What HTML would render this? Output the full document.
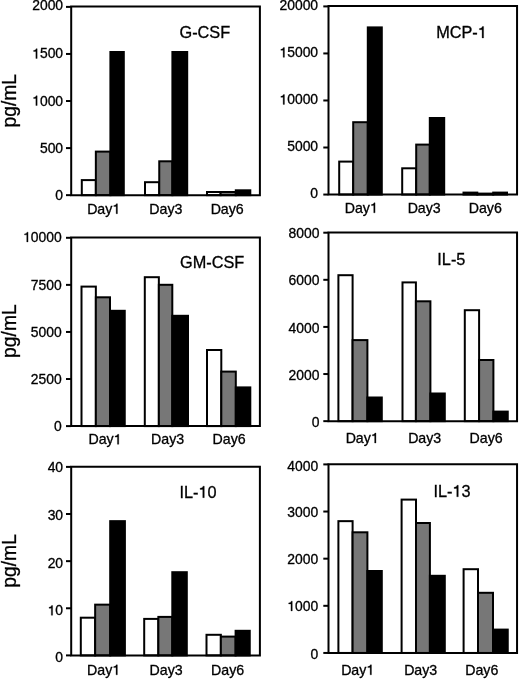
<!DOCTYPE html>
<html><head><meta charset="utf-8"><style>
html,body{margin:0;padding:0;background:#fff;width:520px;height:680px;overflow:hidden}
svg{display:block;will-change:transform;font-family:"Liberation Sans", sans-serif;fill:#000}
text{font-family:"Liberation Sans", sans-serif;stroke:#000;stroke-width:0.3px}
tspan.h{fill:none;stroke:none}
</style></head><body>
<svg width="520" height="680" viewBox="0 0 520 680">
<g>
<rect x="0" y="0" width="520" height="680" fill="#fff"/>
<g><rect x="81.8" y="180.1" width="14.05" height="15.05" fill="#fff" stroke="#000" stroke-width="2.0"/><rect x="95.85" y="151.6" width="14.55" height="43.55" fill="#777777" stroke="#000" stroke-width="2.0"/><rect x="110.4" y="52" width="13.4" height="143.15" fill="#000" stroke="#000" stroke-width="2.0"/><rect x="145" y="182.2" width="14.25" height="12.95" fill="#fff" stroke="#000" stroke-width="2.0"/><rect x="159.25" y="161.3" width="13.15" height="33.85" fill="#777777" stroke="#000" stroke-width="2.0"/><rect x="172.4" y="52" width="14.8" height="143.15" fill="#000" stroke="#000" stroke-width="2.0"/><rect x="207" y="192" width="13.6" height="3.15" fill="#fff" stroke="#000" stroke-width="2.0"/><rect x="220.6" y="192" width="15.2" height="3.15" fill="#777777" stroke="#000" stroke-width="2.0"/><rect x="235.8" y="190.3" width="14.5" height="4.85" fill="#000" stroke="#000" stroke-width="2.0"/><path d="M71.2 6.45 H259.9 V195.15 H71.2 Z" fill="none" stroke="#000" stroke-width="2.0" stroke-linecap="square"/><line x1="66" y1="195.15" x2="71.2" y2="195.15" stroke="#000" stroke-width="2.0"/><text x="63.1" y="200.15" text-anchor="end" font-size="13.9">0</text><line x1="66" y1="148.09" x2="71.2" y2="148.09" stroke="#000" stroke-width="2.0"/><text x="63.1" y="153.09" text-anchor="end" font-size="13.9">500</text><line x1="66" y1="101.03" x2="71.2" y2="101.03" stroke="#000" stroke-width="2.0"/><text x="63.1" y="105.53" text-anchor="end" font-size="13.9"><tspan class="h">1</tspan>000</text><line x1="66" y1="53.96" x2="71.2" y2="53.96" stroke="#000" stroke-width="2.0"/><text x="63.1" y="58.46" text-anchor="end" font-size="13.9"><tspan class="h">1</tspan>500</text><line x1="66" y1="6.9" x2="71.2" y2="6.9" stroke="#000" stroke-width="2.0"/><text x="63.1" y="9.9" text-anchor="end" font-size="13.9">2000</text><text x="87.13" y="213.7" font-size="14.2">Day<tspan class="h">1</tspan></text><text x="149.33" y="213.7" font-size="14.2">Day3</text><text x="210.63" y="213.7" font-size="14.2">Day6</text><text x="179.49" y="38.25" font-size="16.3">G-CSF</text><text transform="translate(16.0 100.7) rotate(-90)" text-anchor="middle" font-size="19.3">pg/mL</text></g>
<g><rect x="339.2" y="161.6" width="14" height="32.95" fill="#fff" stroke="#000" stroke-width="2.0"/><rect x="353.2" y="122.2" width="14.6" height="72.35" fill="#777777" stroke="#000" stroke-width="2.0"/><rect x="367.8" y="27.4" width="14" height="167.15" fill="#000" stroke="#000" stroke-width="2.0"/><rect x="402.2" y="168.3" width="14" height="26.25" fill="#fff" stroke="#000" stroke-width="2.0"/><rect x="416.2" y="144.6" width="13.6" height="49.95" fill="#777777" stroke="#000" stroke-width="2.0"/><rect x="429.8" y="118" width="14.4" height="76.55" fill="#000" stroke="#000" stroke-width="2.0"/><rect x="463.5" y="192.6" width="13.8" height="1.95" fill="#fff" stroke="#000" stroke-width="2.0"/><rect x="477.3" y="193.6" width="15.9" height="0.95" fill="#777777" stroke="#000" stroke-width="2.0"/><rect x="493.2" y="192.6" width="13.8" height="1.95" fill="#000" stroke="#000" stroke-width="2.0"/><path d="M328.5 6.05 H517.05 V194.55 H328.5 Z" fill="none" stroke="#000" stroke-width="2.0" stroke-linecap="square"/><line x1="323.3" y1="194.55" x2="328.5" y2="194.55" stroke="#000" stroke-width="2.0"/><text x="318.1" y="198.45" text-anchor="end" font-size="13.9">0</text><line x1="323.3" y1="147.51" x2="328.5" y2="147.51" stroke="#000" stroke-width="2.0"/><text x="318.1" y="150.51" text-anchor="end" font-size="13.9">5000</text><line x1="323.3" y1="100.48" x2="328.5" y2="100.48" stroke="#000" stroke-width="2.0"/><text x="318.1" y="104.38" text-anchor="end" font-size="13.9"><tspan class="h">1</tspan>0000</text><line x1="323.3" y1="53.44" x2="328.5" y2="53.44" stroke="#000" stroke-width="2.0"/><text x="318.1" y="57.34" text-anchor="end" font-size="13.9"><tspan class="h">1</tspan>5000</text><line x1="323.3" y1="6.4" x2="328.5" y2="6.4" stroke="#000" stroke-width="2.0"/><text x="318.1" y="10.2" text-anchor="end" font-size="13.9">20000</text><text x="344.73" y="212.8" font-size="14.2">Day<tspan class="h">1</tspan></text><text x="407.63" y="212.8" font-size="14.2">Day3</text><text x="468.73" y="212.8" font-size="14.2">Day6</text><text x="436.15" y="37.95" font-size="16.3">MCP-<tspan class="h">1</tspan></text></g>
<g><rect x="81.5" y="286.6" width="14.35" height="139.5" fill="#fff" stroke="#000" stroke-width="2.0"/><rect x="95.85" y="297.3" width="14.15" height="128.8" fill="#777777" stroke="#000" stroke-width="2.0"/><rect x="110" y="310.8" width="14.75" height="115.3" fill="#000" stroke="#000" stroke-width="2.0"/><rect x="144.8" y="277.2" width="14.05" height="148.9" fill="#fff" stroke="#000" stroke-width="2.0"/><rect x="158.85" y="284.8" width="13.45" height="141.3" fill="#777777" stroke="#000" stroke-width="2.0"/><rect x="172.3" y="315.8" width="15.7" height="110.3" fill="#000" stroke="#000" stroke-width="2.0"/><rect x="207" y="350" width="14.3" height="76.1" fill="#fff" stroke="#000" stroke-width="2.0"/><rect x="221.3" y="371.6" width="14.5" height="54.5" fill="#777777" stroke="#000" stroke-width="2.0"/><rect x="235.8" y="387.4" width="14.5" height="38.7" fill="#000" stroke="#000" stroke-width="2.0"/><path d="M71.2 237.55 H259.9 V426.1 H71.2 Z" fill="none" stroke="#000" stroke-width="2.0" stroke-linecap="square"/><line x1="66" y1="426.1" x2="71.2" y2="426.1" stroke="#000" stroke-width="2.0"/><text x="61.7" y="431.4" text-anchor="end" font-size="13.9">0</text><line x1="66" y1="379.03" x2="71.2" y2="379.03" stroke="#000" stroke-width="2.0"/><text x="61.7" y="384.43" text-anchor="end" font-size="13.9">2500</text><line x1="66" y1="331.95" x2="71.2" y2="331.95" stroke="#000" stroke-width="2.0"/><text x="61.7" y="337.35" text-anchor="end" font-size="13.9">5000</text><line x1="66" y1="284.88" x2="71.2" y2="284.88" stroke="#000" stroke-width="2.0"/><text x="61.7" y="289.77" text-anchor="end" font-size="13.9">7500</text><line x1="66" y1="237.8" x2="71.2" y2="237.8" stroke="#000" stroke-width="2.0"/><text x="61.7" y="241.9" text-anchor="end" font-size="13.9"><tspan class="h">1</tspan>0000</text><text x="88.43" y="444.3" font-size="14.2">Day<tspan class="h">1</tspan></text><text x="151.03" y="444.3" font-size="14.2">Day3</text><text x="212.53" y="444.3" font-size="14.2">Day6</text><text x="180.09" y="267.75" font-size="16.3">GM-CSF</text><text transform="translate(16.0 331.1) rotate(-90)" text-anchor="middle" font-size="19.3">pg/mL</text></g>
<g><rect x="338.4" y="275.2" width="14.2" height="145.95" fill="#fff" stroke="#000" stroke-width="2.0"/><rect x="352.6" y="340.1" width="14.8" height="81.05" fill="#777777" stroke="#000" stroke-width="2.0"/><rect x="367.4" y="397.5" width="14.4" height="23.65" fill="#000" stroke="#000" stroke-width="2.0"/><rect x="402.5" y="282.4" width="13.4" height="138.75" fill="#fff" stroke="#000" stroke-width="2.0"/><rect x="415.9" y="301.3" width="14.5" height="119.85" fill="#777777" stroke="#000" stroke-width="2.0"/><rect x="430.4" y="393.5" width="14.4" height="27.65" fill="#000" stroke="#000" stroke-width="2.0"/><rect x="464.8" y="310.2" width="14.3" height="110.95" fill="#fff" stroke="#000" stroke-width="2.0"/><rect x="479.1" y="360" width="14.3" height="61.15" fill="#777777" stroke="#000" stroke-width="2.0"/><rect x="493.4" y="411.6" width="14.35" height="9.55" fill="#000" stroke="#000" stroke-width="2.0"/><path d="M328.5 232.55 H517.05 V421.15 H328.5 Z" fill="none" stroke="#000" stroke-width="2.0" stroke-linecap="square"/><line x1="323.3" y1="421.15" x2="328.5" y2="421.15" stroke="#000" stroke-width="2.0"/><text x="319.4" y="427.25" text-anchor="end" font-size="13.9">0</text><line x1="323.3" y1="374.04" x2="328.5" y2="374.04" stroke="#000" stroke-width="2.0"/><text x="319.4" y="379.54" text-anchor="end" font-size="13.9">2000</text><line x1="323.3" y1="326.92" x2="328.5" y2="326.92" stroke="#000" stroke-width="2.0"/><text x="319.4" y="333.32" text-anchor="end" font-size="13.9">4000</text><line x1="323.3" y1="279.81" x2="328.5" y2="279.81" stroke="#000" stroke-width="2.0"/><text x="319.4" y="285.31" text-anchor="end" font-size="13.9">6000</text><line x1="323.3" y1="232.7" x2="328.5" y2="232.7" stroke="#000" stroke-width="2.0"/><text x="319.4" y="238.4" text-anchor="end" font-size="13.9">8000</text><text x="345.63" y="443" font-size="14.2">Day<tspan class="h">1</tspan></text><text x="408.13" y="443" font-size="14.2">Day3</text><text x="469.53" y="443" font-size="14.2">Day6</text><text x="437.32" y="264.55" font-size="16.3">IL-5</text></g>
<g><rect x="80.8" y="617.7" width="14.35" height="37.7" fill="#fff" stroke="#000" stroke-width="2.0"/><rect x="95.15" y="604.65" width="15.05" height="50.75" fill="#777777" stroke="#000" stroke-width="2.0"/><rect x="110.2" y="521.15" width="14.7" height="134.25" fill="#000" stroke="#000" stroke-width="2.0"/><rect x="144.2" y="618.9" width="14.15" height="36.5" fill="#fff" stroke="#000" stroke-width="2.0"/><rect x="158.35" y="616.9" width="13.95" height="38.5" fill="#777777" stroke="#000" stroke-width="2.0"/><rect x="172.3" y="572.2" width="14.5" height="83.2" fill="#000" stroke="#000" stroke-width="2.0"/><rect x="206.5" y="634.8" width="14.35" height="20.6" fill="#fff" stroke="#000" stroke-width="2.0"/><rect x="220.85" y="636.6" width="14.75" height="18.8" fill="#777777" stroke="#000" stroke-width="2.0"/><rect x="235.6" y="630.8" width="14.15" height="24.6" fill="#000" stroke="#000" stroke-width="2.0"/><path d="M71.2 466.8 H259.9 V655.4 H71.2 Z" fill="none" stroke="#000" stroke-width="2.0" stroke-linecap="square"/><line x1="66" y1="655.4" x2="71.2" y2="655.4" stroke="#000" stroke-width="2.0"/><text x="63.1" y="662.3" text-anchor="end" font-size="13.9">0</text><line x1="66" y1="608.27" x2="71.2" y2="608.27" stroke="#000" stroke-width="2.0"/><text x="63.1" y="615.27" text-anchor="end" font-size="13.9"><tspan class="h">1</tspan>0</text><line x1="66" y1="561.15" x2="71.2" y2="561.15" stroke="#000" stroke-width="2.0"/><text x="63.1" y="567.75" text-anchor="end" font-size="13.9">20</text><line x1="66" y1="514.02" x2="71.2" y2="514.02" stroke="#000" stroke-width="2.0"/><text x="63.1" y="520.12" text-anchor="end" font-size="13.9">30</text><line x1="66" y1="466.9" x2="71.2" y2="466.9" stroke="#000" stroke-width="2.0"/><text x="63.1" y="472.1" text-anchor="end" font-size="13.9">40</text><text x="87.03" y="674.8" font-size="14.2">Day<tspan class="h">1</tspan></text><text x="149.53" y="674.8" font-size="14.2">Day3</text><text x="211.03" y="674.8" font-size="14.2">Day6</text><text x="179.42" y="497.65" font-size="16.3">IL-<tspan class="h">1</tspan>0</text><text transform="translate(16.0 560.9) rotate(-90)" text-anchor="middle" font-size="19.3">pg/mL</text></g>
<g><rect x="338.4" y="521.15" width="14.2" height="131.8" fill="#fff" stroke="#000" stroke-width="2.0"/><rect x="352.6" y="532.3" width="14.8" height="120.65" fill="#777777" stroke="#000" stroke-width="2.0"/><rect x="367.4" y="571" width="14.4" height="81.95" fill="#000" stroke="#000" stroke-width="2.0"/><rect x="401.6" y="499.6" width="14.4" height="153.35" fill="#fff" stroke="#000" stroke-width="2.0"/><rect x="416" y="523" width="13.9" height="129.95" fill="#777777" stroke="#000" stroke-width="2.0"/><rect x="429.9" y="575.8" width="14.9" height="77.15" fill="#000" stroke="#000" stroke-width="2.0"/><rect x="463.6" y="569.2" width="14.4" height="83.75" fill="#fff" stroke="#000" stroke-width="2.0"/><rect x="478" y="592.8" width="15" height="60.15" fill="#777777" stroke="#000" stroke-width="2.0"/><rect x="493" y="629.6" width="14.75" height="23.35" fill="#000" stroke="#000" stroke-width="2.0"/><path d="M328.5 464.35 H517.05 V652.95 H328.5 Z" fill="none" stroke="#000" stroke-width="2.0" stroke-linecap="square"/><line x1="323.3" y1="652.95" x2="328.5" y2="652.95" stroke="#000" stroke-width="2.0"/><text x="318.2" y="658.95" text-anchor="end" font-size="13.9">0</text><line x1="323.3" y1="605.81" x2="328.5" y2="605.81" stroke="#000" stroke-width="2.0"/><text x="318.2" y="610.91" text-anchor="end" font-size="13.9"><tspan class="h">1</tspan>000</text><line x1="323.3" y1="558.67" x2="328.5" y2="558.67" stroke="#000" stroke-width="2.0"/><text x="318.2" y="564.07" text-anchor="end" font-size="13.9">2000</text><line x1="323.3" y1="511.54" x2="328.5" y2="511.54" stroke="#000" stroke-width="2.0"/><text x="318.2" y="516.74" text-anchor="end" font-size="13.9">3000</text><line x1="323.3" y1="464.4" x2="328.5" y2="464.4" stroke="#000" stroke-width="2.0"/><text x="318.2" y="470.7" text-anchor="end" font-size="13.9">4000</text><text x="341.13" y="674.8" font-size="14.2">Day<tspan class="h">1</tspan></text><text x="404.13" y="674.8" font-size="14.2">Day3</text><text x="465.23" y="674.8" font-size="14.2">Day6</text><text x="433.42" y="496.75" font-size="16.3">IL-<tspan class="h">1</tspan>3</text></g>
</g>
<path d="M37.17,105.53L37.17,95.76L36.11,95.76C35.82,96.84 35.03,97.40 33.58,97.51L33.58,98.50L35.86,98.50L35.86,105.53Z" fill="#000" stroke="#000" stroke-width="0.3" stroke-linejoin="miter"/><path d="M37.17,58.46L37.17,48.69L36.11,48.69C35.82,49.77 35.03,50.33 33.58,50.44L33.58,51.43L35.86,51.43L35.86,58.46Z" fill="#000" stroke="#000" stroke-width="0.3" stroke-linejoin="miter"/><path d="M117.46,213.70L117.46,203.72L116.38,203.72C116.08,204.82 115.28,205.39 113.80,205.51L113.80,206.51L116.13,206.51L116.13,213.70Z" fill="#000" stroke="#000" stroke-width="0.3" stroke-linejoin="miter"/><path d="M284.45,104.38L284.45,94.61L283.39,94.61C283.10,95.69 282.31,96.25 280.86,96.36L280.86,97.35L283.14,97.35L283.14,104.38Z" fill="#000" stroke="#000" stroke-width="0.3" stroke-linejoin="miter"/><path d="M284.45,57.34L284.45,47.57L283.39,47.57C283.10,48.65 282.31,49.21 280.86,49.32L280.86,50.31L283.14,50.31L283.14,57.34Z" fill="#000" stroke="#000" stroke-width="0.3" stroke-linejoin="miter"/><path d="M375.06,212.80L375.06,202.82L373.98,202.82C373.68,203.93 372.88,204.49 371.40,204.61L371.40,205.61L373.73,205.61L373.73,212.80Z" fill="#000" stroke="#000" stroke-width="0.3" stroke-linejoin="miter"/><path d="M483.61,37.95L483.61,26.49L482.37,26.49C482.03,27.76 481.10,28.41 479.41,28.54L479.41,29.70L482.08,29.70L482.08,37.95Z" fill="#000" stroke="#000" stroke-width="0.3" stroke-linejoin="miter"/><path d="M28.05,241.90L28.05,232.13L26.99,232.13C26.70,233.21 25.91,233.77 24.46,233.88L24.46,234.87L26.74,234.87L26.74,241.90Z" fill="#000" stroke="#000" stroke-width="0.3" stroke-linejoin="miter"/><path d="M118.76,444.30L118.76,434.32L117.68,434.32C117.38,435.42 116.58,435.99 115.10,436.11L115.10,437.11L117.43,437.11L117.43,444.30Z" fill="#000" stroke="#000" stroke-width="0.3" stroke-linejoin="miter"/><path d="M375.96,443.00L375.96,433.02L374.88,433.02C374.58,434.12 373.78,434.69 372.30,434.81L372.30,435.81L374.63,435.81L374.63,443.00Z" fill="#000" stroke="#000" stroke-width="0.3" stroke-linejoin="miter"/><path d="M52.62,615.27L52.62,605.50L51.56,605.50C51.27,606.58 50.48,607.14 49.04,607.25L49.04,608.24L51.31,608.24L51.31,615.27Z" fill="#000" stroke="#000" stroke-width="0.3" stroke-linejoin="miter"/><path d="M117.36,674.80L117.36,664.82L116.28,664.82C115.98,665.92 115.18,666.49 113.70,666.61L113.70,667.61L116.03,667.61L116.03,674.80Z" fill="#000" stroke="#000" stroke-width="0.3" stroke-linejoin="miter"/><path d="M204.29,497.65L204.29,486.19L203.05,486.19C202.71,487.46 201.78,488.11 200.08,488.24L200.08,489.40L202.76,489.40L202.76,497.65Z" fill="#000" stroke="#000" stroke-width="0.3" stroke-linejoin="miter"/><path d="M292.27,610.91L292.27,601.14L291.21,601.14C290.92,602.22 290.13,602.78 288.68,602.89L288.68,603.88L290.96,603.88L290.96,610.91Z" fill="#000" stroke="#000" stroke-width="0.3" stroke-linejoin="miter"/><path d="M371.46,674.80L371.46,664.82L370.38,664.82C370.08,665.92 369.28,666.49 367.80,666.61L367.80,667.61L370.13,667.61L370.13,674.80Z" fill="#000" stroke="#000" stroke-width="0.3" stroke-linejoin="miter"/><path d="M458.29,496.75L458.29,485.29L457.05,485.29C456.71,486.56 455.78,487.21 454.08,487.34L454.08,488.50L456.76,488.50L456.76,496.75Z" fill="#000" stroke="#000" stroke-width="0.3" stroke-linejoin="miter"/>
</svg>
</body></html>
